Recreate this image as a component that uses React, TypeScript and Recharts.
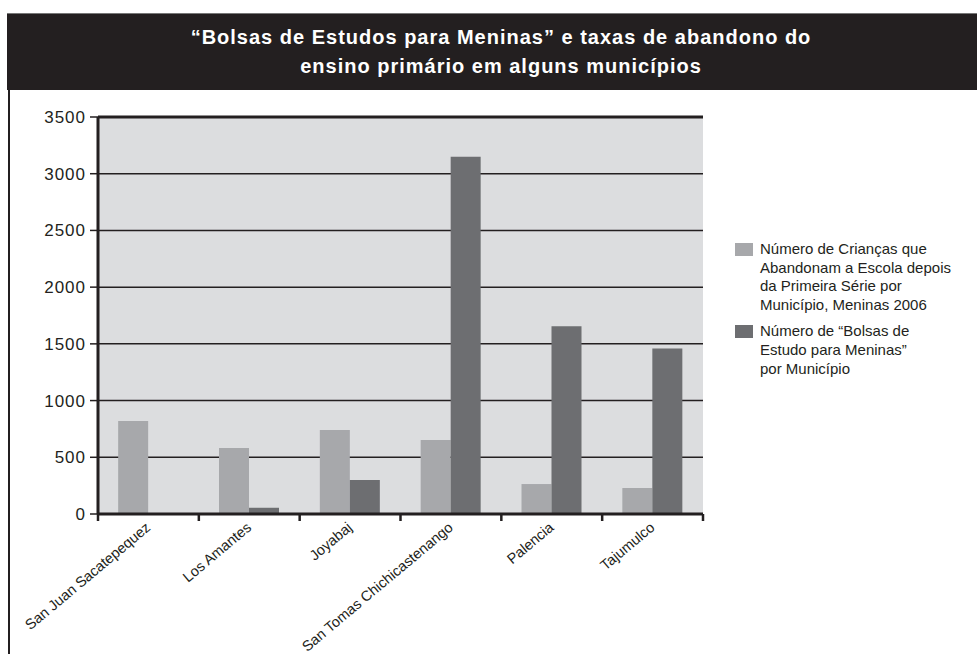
import React from 'react';
import { BarChart, Bar, XAxis, YAxis, CartesianGrid, ReferenceLine } from 'recharts';

const categories = [
  'San Juan Sacatepequez',
  'Los Amantes',
  'Joyabaj',
  'San Tomas Chichicastenango',
  'Palencia',
  'Tajumulco',
];
const dropouts = [820, 582, 740, 652, 264, 229];
const scholarships = [0, 55, 300, 3150, 1655, 1460];
const yTicks = [0, 500, 1000, 1500, 2000, 2500, 3000, 3500];
const seriesNames = [
  'Número de Crianças que Abandonam a Escola depois da Primeira Série por Município, Meninas 2006',
  'Número de “Bolsas de Estudo para Meninas” por Município',
];
const legendLines = [
  ['Número de Crianças que', 'Abandonam a Escola depois', 'da Primeira Série por', 'Município, Meninas 2006'],
  ['Número de “Bolsas de', 'Estudo para Meninas”', 'por Município'],
];
const titleLines = [
  '“Bolsas de Estudos para Meninas” e taxas de abandono do',
  'ensino primário em alguns municípios',
];

const data = categories.map((name, i) => ({
  name,
  dropouts: dropouts[i],
  scholarships: scholarships[i],
}));

const INK = '#231f20';
const LIGHT = '#a7a8ab';
const DARK = '#6d6e71';
const seriesColors = [LIGHT, DARK];
const FONT = '"Liberation Sans", Arial, sans-serif';
const TICK_SIZE = 6;
const TICK_MARGIN = 4;

const XTick = (props: any) => {
  const { x, y, payload, index, visibleTicksCount } = props;
  const half = payload && typeof payload.offset === 'number' ? payload.offset : 50;
  const axisY = y - TICK_SIZE - TICK_MARGIN;
  const tx = x + 3;
  const ty = y + 5;
  return (
    <g>
      <line x1={x - half} x2={x - half} y1={axisY} y2={axisY + 7} stroke={INK} strokeWidth={2.5} />
      {index === visibleTicksCount - 1 && (
        <line x1={x + half} x2={x + half} y1={axisY} y2={axisY + 7} stroke={INK} strokeWidth={2.5} />
      )}
      <text
        x={tx}
        y={ty}
        transform={`rotate(-40, ${tx}, ${ty})`}
        textAnchor="end"
        fill={INK}
        fontSize={14.5}
        fontFamily={FONT}
      >
        {payload.value}
      </text>
    </g>
  );
};

function LegendBox() {
  return (
    <div
      style={{
        position: 'absolute',
        left: 735,
        top: 240,
        width: 240,
        fontFamily: FONT,
        fontSize: 15,
        color: INK,
        lineHeight: '18.7px',
      }}
    >
      {seriesNames.map((name, i) => (
        <div key={i} title={name} style={{ display: 'flex', alignItems: 'flex-start', marginBottom: 7.5 }}>
          <div
            style={{
              width: 18,
              height: 13,
              background: seriesColors[i],
              marginTop: 3,
              marginRight: 7,
              flex: '0 0 auto',
            }}
          />
          <div>
            {legendLines[i].map((line, j) => (
              <div key={j} style={{ whiteSpace: 'nowrap' }}>{line}</div>
            ))}
          </div>
        </div>
      ))}
    </div>
  );
}

export default function App() {
  return (
    <div style={{ position: 'absolute', left: 0, top: 0, width: 977, height: 654, background: '#fff', overflow: 'hidden' }}>
      <div
        style={{
          position: 'absolute',
          left: 7,
          top: 13,
          width: 970,
          height: 77,
          background: INK,
          borderTop: '1px solid #777',
          boxSizing: 'border-box',
        }}
      >
        <div
          style={{
            paddingTop: 9,
            paddingLeft: 18,
            textAlign: 'center',
            color: '#fff',
            fontFamily: FONT,
            fontWeight: 'bold',
            fontSize: 20,
            letterSpacing: 1,
            lineHeight: '29px',
          }}
        >
          {titleLines.map((l, i) => (
            <div key={i}>{l}</div>
          ))}
        </div>
      </div>
      <div style={{ position: 'absolute', left: 8, top: 90, width: 2, height: 564, background: INK }} />
      <div style={{ position: 'absolute', left: 0, top: 0 }}>
        <BarChart
          width={977}
          height={654}
          data={data}
          margin={{ top: 117, right: 274, bottom: 0, left: 0 }}
          barCategoryGap="20%"
          barGap={0}
        >
          <CartesianGrid vertical={false} stroke={INK} strokeWidth={1.5} fill="#dcdddf" fillOpacity={1} />
          <XAxis
            dataKey="name"
            height={140}
            interval={0}
            tickLine={false}
            tickSize={TICK_SIZE}
            tickMargin={TICK_MARGIN}
            axisLine={{ stroke: INK, strokeWidth: 3 }}
            tick={<XTick />}
          />
          <YAxis
            width={98}
            domain={[0, 3500]}
            ticks={yTicks}
            interval={0}
            tickSize={8}
            tickMargin={4}
            axisLine={{ stroke: INK, strokeWidth: 3 }}
            tickLine={{ stroke: INK, strokeWidth: 1.5 }}
            tick={{ fill: INK, fontSize: 17, fontFamily: FONT, letterSpacing: 1 }}
          />
          <YAxis
            yAxisId="r"
            orientation="right"
            width={0}
            domain={[0, 3500]}
            tick={false}
            tickLine={false}
            axisLine={{ stroke: INK, strokeWidth: 2.5 }}
          />
          <ReferenceLine y={3500} stroke={INK} strokeWidth={3} />
          <Bar dataKey="dropouts" name={seriesNames[0]} fill={LIGHT} isAnimationActive={false} />
          <Bar dataKey="scholarships" name={seriesNames[1]} fill={DARK} isAnimationActive={false} />
        </BarChart>
      </div>
      <LegendBox />
    </div>
  );
}
